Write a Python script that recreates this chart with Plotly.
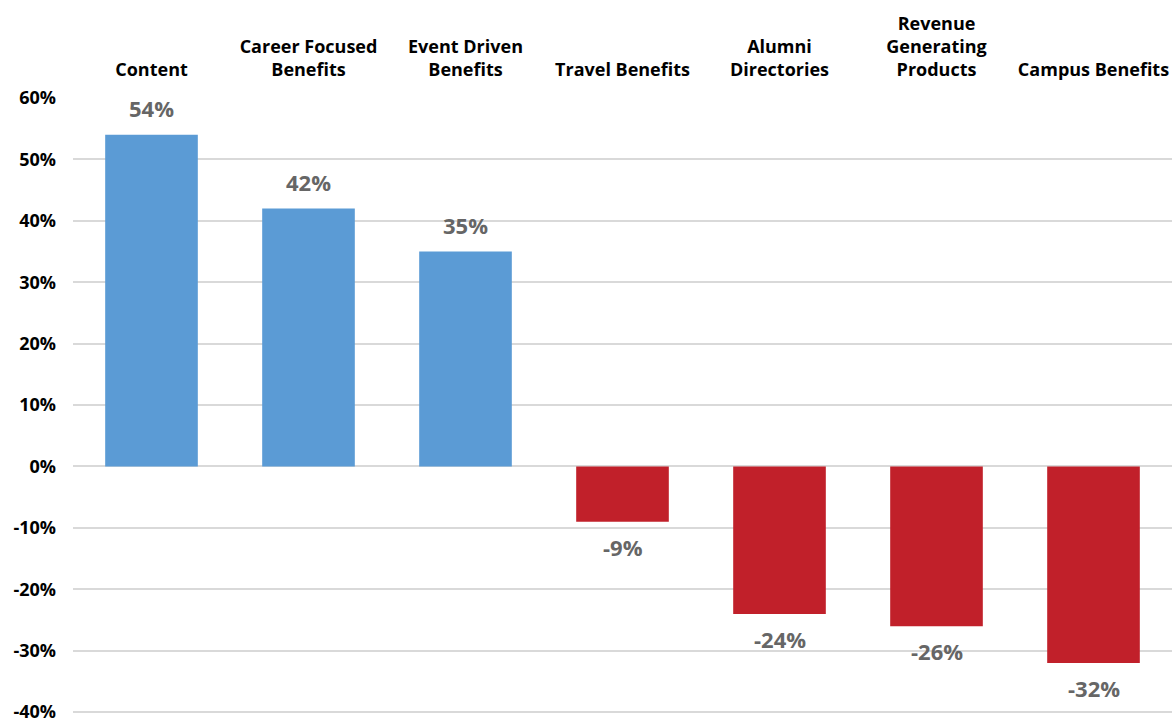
import plotly.graph_objects as go

categories = ["Content", "Career Focused<br>Benefits", "Event Driven<br>Benefits", "Travel Benefits",
              "Alumni<br>Directories", "Revenue<br>Generating<br>Products", "Campus Benefits"]
values = [0.54, 0.42, 0.35, -0.09, -0.24, -0.26, -0.32]
value_labels = ["54%", "42%", "35%", "-9%", "-24%", "-26%", "-32%"]
tick_vals = [-0.4, -0.3, -0.2, -0.1, 0.0, 0.1, 0.2, 0.3, 0.4, 0.5, 0.6]
tick_text = ["-40%", "-30%", "-20%", "-10%", "0%", "10%", "20%", "30%", "40%", "50%", "60%"]

BLUE = "#5B9BD5"
RED = "#C1202A"
colors = [BLUE if v >= 0 else RED for v in values]
FONT = "Open Sans"

fig = go.Figure(go.Bar(x=categories, y=values, marker=dict(color=colors, line=dict(width=0)),
                       hoverinfo="skip"))

for c, v, t in zip(categories, values, value_labels):
    fig.add_annotation(x=c, y=v, text=t, showarrow=False,
                       yanchor="bottom" if v >= 0 else "top",
                       yshift=10 if v >= 0 else -8,
                       font=dict(family=FONT, size=22, color="#666666", weight="bold"))

fig.update_layout(
    width=1172, height=722,
    margin=dict(l=73, r=0, t=98, b=8, autoexpand=False),
    paper_bgcolor="white", plot_bgcolor="white",
    bargap=0.41, showlegend=False,
    font=dict(family=FONT, color="black"),
    xaxis=dict(side="top", showgrid=False, showline=False, ticks="",
               tickfont=dict(family=FONT, size=18, color="black", weight="bold"),
               ticklabelstandoff=17, automargin=False),
    yaxis=dict(range=[-0.403, 0.6], tickvals=tick_vals, ticktext=tick_text,
               showgrid=True, gridcolor="#D9D9D9", gridwidth=1.5,
               zeroline=True, zerolinecolor="#D9D9D9", zerolinewidth=1.5,
               showline=False, ticks="", ticklabelstandoff=16,
               ticklabeloverflow="allow", automargin=False,
               tickfont=dict(family=FONT, size=18, color="black", weight="bold")),
)

fig.write_html("out.html", config={"displayModeBar": False},
               post_script="document.body.style.margin='0';document.body.style.overflow='hidden';")
